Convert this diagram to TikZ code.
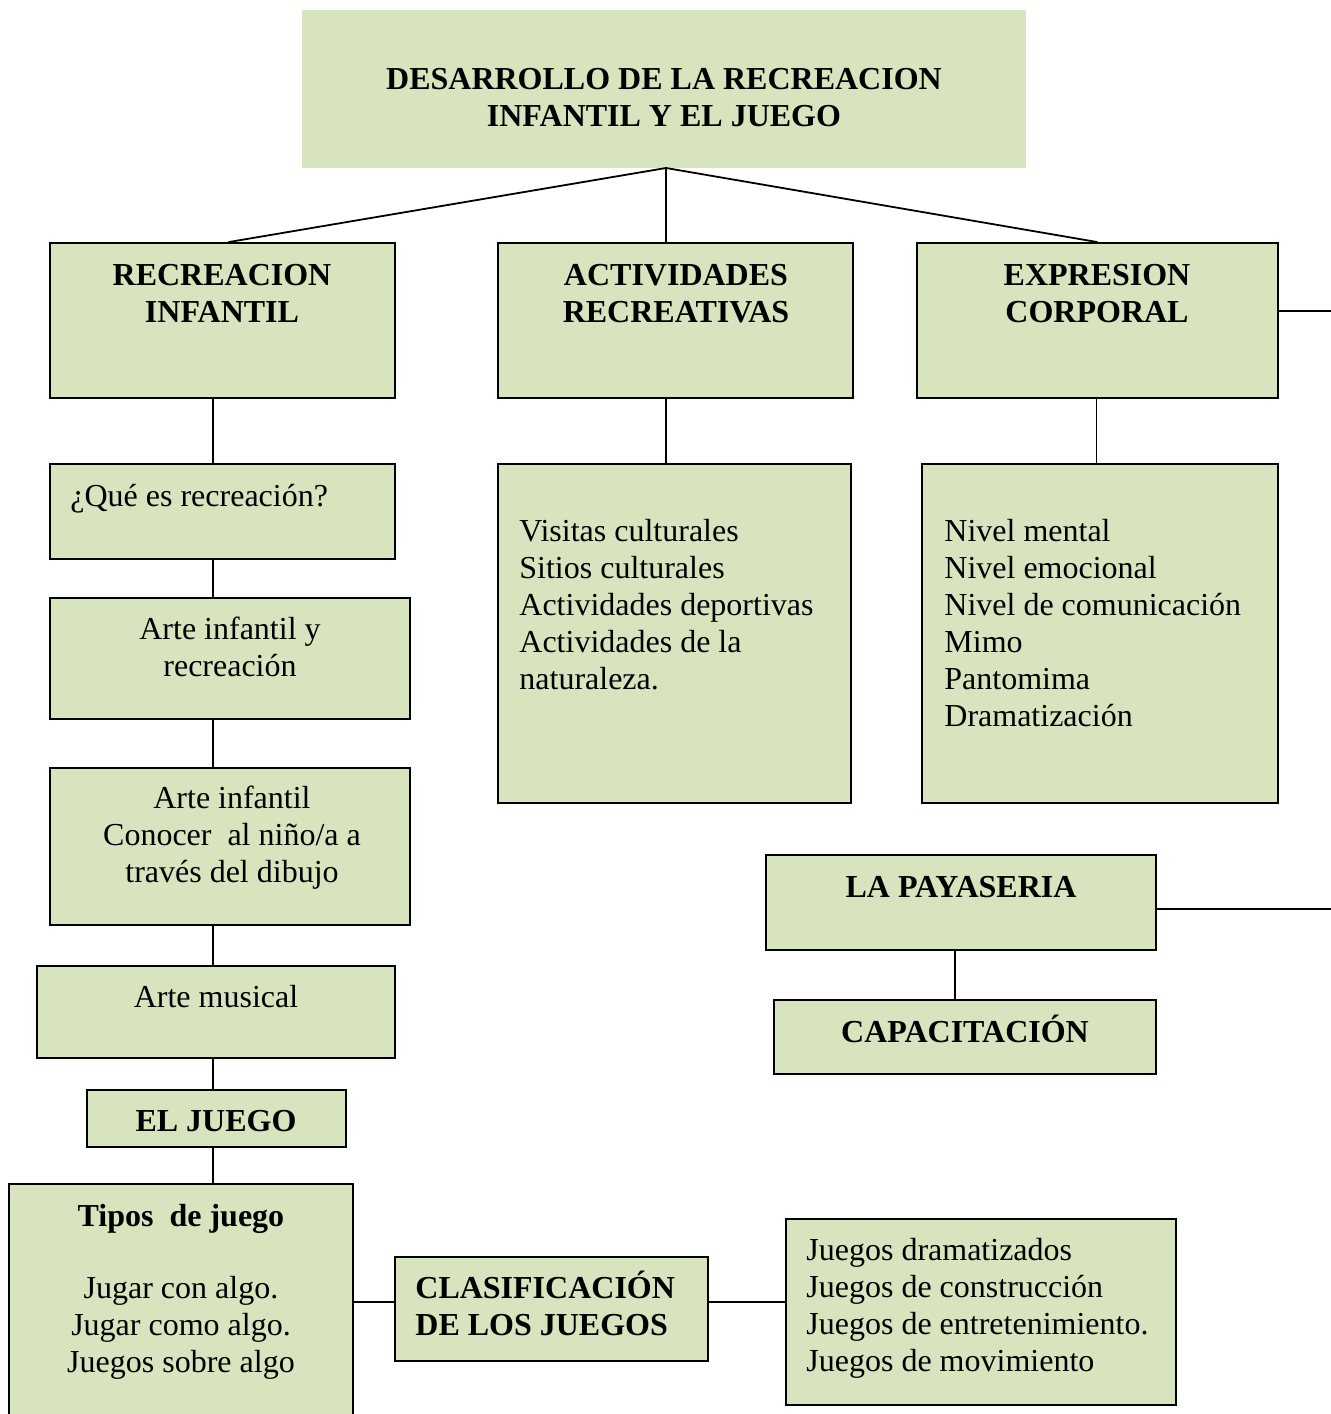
\documentclass[tikz,border=0pt]{standalone}
\usepackage{fontspec}
\setmainfont{Liberation Serif}
\usetikzlibrary{fit,calc}
\definecolor{boxfill}{HTML}{D7E4BD}
\begin{document}
\begin{tikzpicture}[x=0.5pt,y=-0.5pt,
  box/.style={draw=black, fill=boxfill, line width=0.9pt, inner sep=0pt},
  plainbox/.style={fill=boxfill, inner sep=0pt},
  conn/.style={draw=black, line width=0.9pt},
  txt/.style={inner sep=0pt, font=\fontsize{16}{18.5}\selectfont},
  ctxt/.style={txt, align=center, anchor=base},
  ltxt/.style={txt, align=left, anchor=base west}]
\useasboundingbox (0,0) rectangle (1331,1414);

% boxes
\node[plainbox, fit={(302,10) (1026,168)}] (top) {};
\node[box, fit={(50,243) (395,398)}] (ri) {};
\node[box, fit={(498,243) (853,398)}] (act) {};
\node[box, fit={(917,243) (1278,398)}] (exp) {};
\node[box, fit={(50,464) (395,559)}] (que) {};
\node[box, fit={(50,598) (410,719)}] (arte1) {};
\node[box, fit={(50,768) (410,925)}] (arte2) {};
\node[box, fit={(37,966) (395,1058)}] (musi) {};
\node[box, fit={(87,1090) (346,1147)}] (juego) {};
\node[box, fit={(9,1184) (353,1430)}] (tipos) {};
\node[box, fit={(395,1257) (708,1361)}] (clas) {};
\node[box, fit={(786,1219) (1176,1405)}] (jueg) {};
\node[box, fit={(498,464) (851,803)}] (vis) {};
\node[box, fit={(922,464) (1278,803)}] (niv) {};
\node[box, fit={(766,855) (1156,950)}] (pay) {};
\node[box, fit={(774,1000) (1156,1074)}] (cap) {};

% helper coordinates
\coordinate (spine) at (213,0);
\coordinate (actx) at (666,0);
\coordinate (payx) at (955,0);
\coordinate (edgeA) at (1331,311);
\coordinate (edgeB) at (1331,909);
\coordinate (rowC) at (0,1302);
\coordinate (hub) at (666,168);

% connectors
\draw[conn] (hub) -- ($(ri.north)+(6,0)$);
\draw[conn] (hub) -- (hub |- act.north);
\draw[conn] (hub) -- (exp.north);
\draw[conn] (ri.south -| spine) -- (que.north -| spine);
\draw[conn] (que.south -| spine) -- (arte1.north -| spine);
\draw[conn] (arte1.south -| spine) -- (arte2.north -| spine);
\draw[conn] (arte2.south -| spine) -- (musi.north -| spine);
\draw[conn] (musi.south -| spine) -- (juego.north -| spine);
\draw[conn] (juego.south -| spine) -- (tipos.north -| spine);
\draw[conn] (act.south -| actx) -- (vis.north -| actx);
\draw[conn] ($(exp.south)+(-1,0)$) -- ($(niv.north -| exp.south)+(-1,0)$);
\draw[conn] (exp.east |- edgeA) -- (edgeA);
\draw[conn] (pay.east |- edgeB) -- (edgeB);
\draw[conn] (pay.south -| payx) -- (cap.north -| payx);
\draw[conn] (tipos.east |- rowC) -- (clas.west |- rowC);
\draw[conn] (clas.east |- rowC) -- (jueg.west |- rowC);

% texts (multi-line nodes: base = baseline of last line)
\node[ctxt] (ttop) at (664,126) {\bfseries DESARROLLO DE LA RECREACION\\\bfseries INFANTIL Y EL JUEGO};
\node[ctxt] (tri) at (222,322) {\bfseries RECREACION\\\bfseries INFANTIL};
\node[ctxt] (tact) at (676,322) {\bfseries ACTIVIDADES\\\bfseries RECREATIVAS};
\node[ctxt] (texp) at (1097,322) {\bfseries EXPRESION\\\bfseries CORPORAL};
\node[ltxt] (tque) at (70,506) {¿Qué es recreación?};
\node[ctxt] (tarte1) at (230,676) {Arte infantil y\\recreación};
\node[ctxt] (tarte2) at (232,882) {Arte infantil\\Conocer\ \ al niño/a a\\través del dibujo};
\node[ctxt] (tmusi) at (216,1007) {Arte musical};
\node[ctxt] (tjuego) at (216,1131) {\bfseries EL JUEGO};
\node[ctxt] (ttipos) at (181,1372) {\bfseries Tipos\ \ de juego\\[17.5pt]Jugar con algo.\\Jugar como algo.\\Juegos sobre algo};
\node[ltxt] (tclas) at (415,1335) {\bfseries CLASIFICACIÓN\\\bfseries DE LOS JUEGOS};
\node[ltxt] (tjueg) at (806,1371) {Juegos dramatizados\\Juegos de construcción\\Juegos de entretenimiento.\\Juegos de movimiento};
\node[ltxt] (tvis) at (519,689) {Visitas culturales\\Sitios culturales\\Actividades deportivas\\Actividades de la\\naturaleza.};
\node[ltxt] (tniv) at (944,726) {Nivel mental\\Nivel emocional\\Nivel de comunicación\\Mimo\\Pantomima\\Dramatización};
\node[ctxt] (tpay) at (961,897) {\bfseries LA PAYASERIA};
\node[ctxt] (tcap) at (965,1042) {\bfseries CAPACITACIÓN};
\end{tikzpicture}
\end{document}
